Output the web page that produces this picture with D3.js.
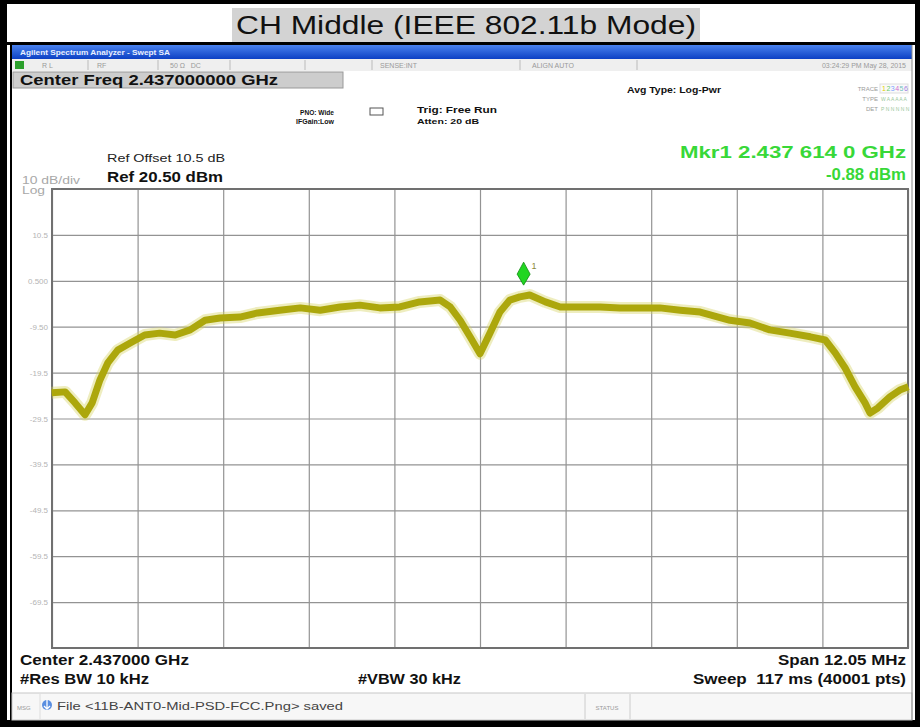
<!DOCTYPE html>
<meta charset="utf-8">
<style>
body { margin: 0; background: #fff; }
svg { display: block; font-family: "Liberation Sans", Arial, sans-serif; }
.grid line { stroke: #939393; stroke-width: 1.2; }
.grid path { display: none; }
.tiny { font-size: 7px; fill: #9a9a9a; }
.bold { font-weight: bold; fill: #111; }
</style>
<body>
<svg width="920" height="727"></svg>
<script src="https://d3js.org/d3.v7.min.js"></script>
<script>

// spectrum settings
var centerGHz = 2.437,
    spanMHz = 12.05,
    refLevel = 20.5,
    dbPerDiv = 10;

// trace (offset from centre in MHz, level in dBm)
var freqMHz = [-6.03, -5.84, -5.70, -5.56, -5.46, -5.35, -5.24, -5.10, -4.93, -4.72,
  -4.51, -4.29, -4.08, -3.87, -3.66, -3.38, -3.13, -2.82, -2.53, -2.25,
  -1.97, -1.69, -1.41, -1.13, -0.85, -0.56, -0.42, -0.28, -0.14, 0.00,
  0.14, 0.28, 0.42, 0.56, 0.70, 0.92, 1.13, 1.41, 1.69, 1.97,
  2.25, 2.53, 2.82, 3.10, 3.24, 3.52, 3.80, 4.08, 4.36, 4.65,
  4.86, 5.00, 5.14, 5.28, 5.42, 5.49, 5.60, 5.77, 5.91, 6.03];
var levelDbm = [-23.9, -23.7, -26.1, -28.7, -26.1, -21.1, -17.4, -14.6, -13.1, -11.3,
  -10.9, -11.3, -10.2, -8.1, -7.6, -7.4, -6.5, -5.9, -5.4, -5.9,
  -5.2, -4.8, -5.4, -5.2, -4.1, -3.7, -5.2, -8.1, -11.7, -15.4,
  -10.9, -6.3, -3.7, -3.0, -2.6, -4.1, -5.2, -5.2, -5.2, -5.4,
  -5.4, -5.4, -5.9, -6.3, -6.9, -8.1, -8.7, -10.2, -10.9, -11.7,
  -12.4, -15.2, -18.5, -22.6, -26.1, -28.3, -27.2, -24.8, -23.3, -22.6];

var marker = {label: "1", freqText: "2.437 614 0 GHz", freqMHz: 0.614, level: "-0.88"};

var yTickLabels = ["10.5", "0.500", "-9.50", "-19.5", "-29.5", "-39.5", "-49.5", "-59.5", "-69.5"];

var svg = d3.select("svg");

var plot = {left: 52, right: 908, top: 189, bottom: 648};

var x = d3.scaleLinear()
    .domain([-spanMHz / 2, spanMHz / 2])
    .range([plot.left, plot.right]);

var y = d3.scaleLinear()
    .domain([refLevel - 10 * dbPerDiv, refLevel])
    .range([plot.bottom, plot.top]);

// text helper; screen capture is stretched sideways so widths are forced
function label(px, py, str, size, opts) {
  opts = opts || {};
  var t = svg.append("text")
      .attr("x", px).attr("y", py)
      .style("font-size", size + "px")
      .attr("fill", opts.fill || "#111")
      .attr("xml:space", "preserve")
      .text(str);
  if (opts.bold) t.style("font-weight", "bold");
  if (opts.anchor) t.attr("text-anchor", opts.anchor);
  if (opts.width) t.attr("textLength", opts.width).attr("lengthAdjust", "spacingAndGlyphs");
  return t;
}

// ---- outer frame + title ----
svg.append("rect").attr("width", 920).attr("height", 727).attr("fill", "#000");
svg.append("rect").attr("x", 7).attr("y", 4).attr("width", 908).attr("height", 716).attr("fill", "#fff");
svg.append("rect").attr("x", 7).attr("y", 42).attr("width", 908).attr("height", 3).attr("fill", "#000");
svg.append("rect").attr("x", 10).attr("y", 45).attr("width", 2).attr("height", 675).attr("fill", "#000");
svg.append("rect").attr("x", 232).attr("y", 8).attr("width", 468).attr("height", 34).attr("fill", "#d3d3d3");
label(466, 34, "CH Middle (IEEE 802.11b Mode)", 25, {anchor: "middle", width: 460, fill: "#111"});

// ---- analyzer window chrome ----
var grad = svg.append("defs").append("linearGradient")
    .attr("id", "bar").attr("x1", 0).attr("x2", 0).attr("y1", 0).attr("y2", 1);
grad.append("stop").attr("offset", 0).attr("stop-color", "#4a82ee");
grad.append("stop").attr("offset", 1).attr("stop-color", "#0c40c4");

svg.append("rect").attr("x", 12).attr("y", 45).attr("width", 900).attr("height", 14).attr("fill", "url(#bar)");
label(20, 55, "Agilent Spectrum Analyzer - Swept SA", 8, {bold: true, fill: "#e8efff", width: 150});

svg.append("rect").attr("x", 12).attr("y", 59).attr("width", 900).attr("height", 12).attr("fill", "#efefef");
svg.append("rect").attr("x", 15).attr("y", 61).attr("width", 9).attr("height", 8).attr("fill", "#2ca02c");
[88, 158, 230, 305, 372, 520, 637].forEach(function(sx) {
  svg.append("line").attr("x1", sx).attr("x2", sx).attr("y1", 60).attr("y2", 70)
      .attr("stroke", "#bbb");
});
[[42, "R L"], [97, "RF"], [170, "50 \u03A9   DC"], [380, "SENSE:INT"], [532, "ALIGN AUTO"]].forEach(function(t) {
  label(t[0], 68, t[1], 7, {fill: "#9a9a9a"});
});
label(906, 68, "03:24:29 PM May 28, 2015", 7, {anchor: "end", fill: "#9a9a9a"});

svg.append("rect").attr("x", 13).attr("y", 72).attr("width", 330).attr("height", 16)
    .attr("fill", "#cdcdcd").attr("stroke", "#999");
label(20, 85, "Center Freq 2.437000000 GHz", 15, {bold: true, width: 258});

label(300, 115, "PNO: Wide", 8, {bold: true, width: 34});
label(296, 124, "IFGain:Low", 8, {bold: true, width: 38});
svg.append("rect").attr("x", 370).attr("y", 108).attr("width", 13).attr("height", 7)
    .attr("fill", "#fff").attr("stroke", "#555");
label(417, 113, "Trig: Free Run", 9.5, {bold: true, width: 80});
label(417, 124, "Atten: 20 dB", 8, {bold: true, width: 62});
label(627, 93, "Avg Type: Log-Pwr", 9.5, {bold: true, width: 94});

label(878, 91, "TRACE", 6, {anchor: "end", fill: "#9a9a9a"});
label(878, 101, "TYPE", 6, {anchor: "end", fill: "#9a9a9a"});
label(878, 111, "DET", 6, {anchor: "end", fill: "#9a9a9a"});
svg.append("rect").attr("x", 880).attr("y", 84).attr("width", 28).attr("height", 9).attr("fill", "#fafafa").attr("stroke", "#ddd");
["#e0d000", "#66cc66", "#7aa0ff", "#d070d0", "#70c0c0", "#a080e0"].forEach(function(c, i) {
  label(882 + i * 4.4, 91, String(i + 1), 7, {fill: c});
});
label(881, 101, "W A A A A A", 5, {fill: "#9bc79b"});
label(881, 111, "P N N N N N", 5, {fill: "#9bc79b"});

// marker readout
label(906, 158, "Mkr" + marker.label + " " + marker.freqText, 16, {bold: true, anchor: "end", fill: "#38d838", width: 226});
label(906, 180, marker.level + " dBm", 16, {bold: true, anchor: "end", fill: "#38d838", width: 80});

label(107, 162, "Ref Offset 10.5 dB", 11, {fill: "#222", width: 118});
label(107, 182, "Ref " + d3.format(".2f")(refLevel) + " dBm", 14, {bold: true, width: 116});
label(22, 184, dbPerDiv + " dB/div", 10, {fill: "#a8a8a8", width: 58});
label(22, 194, "Log", 10, {fill: "#a8a8a8", width: 23});

// ---- graticule ----
var xTicks = d3.range(11).map(function(i) { return -spanMHz / 2 + i * spanMHz / 10; });
var yTicks = d3.range(11).map(function(i) { return refLevel - i * dbPerDiv; });

svg.append("g")
    .attr("class", "grid")
    .attr("transform", "translate(0," + plot.bottom + ")")
    .call(d3.axisBottom(x).tickValues(xTicks).tickSize(-(plot.bottom - plot.top)).tickFormat(""));

svg.append("g")
    .attr("class", "grid")
    .attr("transform", "translate(" + plot.left + ",0)")
    .call(d3.axisLeft(y).tickValues(yTicks).tickSize(-(plot.right - plot.left)).tickFormat(""));

svg.append("rect")
    .attr("x", plot.left).attr("y", plot.top)
    .attr("width", plot.right - plot.left).attr("height", plot.bottom - plot.top)
    .attr("fill", "none").attr("stroke", "#707070").attr("stroke-width", 2);

svg.append("g").selectAll("text")
  .data(yTickLabels)
  .enter().append("text")
    .attr("x", 48)
    .attr("y", function(d, i) { return y(yTicks[i + 1]) + 3; })
    .attr("text-anchor", "end")
    .style("font-size", "8px")
    .attr("fill", "#b4b4b4")
    .text(function(d) { return d; });

// ---- trace ----
var pts = freqMHz.map(function(f, i) { return [f, levelDbm[i]]; });
var line = d3.line()
    .x(function(d) { return x(d[0]); })
    .y(function(d) { return y(d[1]); });

svg.append("path").datum(pts)
    .attr("d", line).attr("fill", "none")
    .attr("stroke", "#d4d160").attr("stroke-width", 12).attr("stroke-opacity", 0.4)
    .attr("stroke-linejoin", "round");
svg.append("path").datum(pts)
    .attr("d", line).attr("fill", "none")
    .attr("stroke", "#aca70c").attr("stroke-width", 7)
    .attr("stroke-linejoin", "round");

// marker diamond
var mx = x(marker.freqMHz), my = y(+marker.level) - 2;
svg.append("path")
    .attr("d", "M" + mx + "," + my + "L" + (mx + 6.5) + "," + (my - 11) + "L" + mx + "," + (my - 23) + "L" + (mx - 6.5) + "," + (my - 11) + "Z")
    .attr("fill", "#22d622").attr("stroke", "#108a10").attr("stroke-width", 0.8);
label(mx + 8, my - 16, marker.label, 9, {fill: "#8a8a40"});

// ---- bottom annotations ----
label(20, 665, "Center " + d3.format(".6f")(centerGHz) + " GHz", 14, {bold: true, width: 169});
label(20, 684, "#Res BW 10 kHz", 14, {bold: true, width: 129});
label(358, 684, "#VBW 30 kHz", 14, {bold: true, width: 103});
label(906, 665, "Span " + spanMHz + " MHz", 14, {bold: true, anchor: "end", width: 128});
label(906, 684, "Sweep  117 ms (40001 pts)", 14, {bold: true, anchor: "end", width: 213});

// message bar
svg.append("rect").attr("x", 12).attr("y", 693).attr("width", 900).attr("height", 27)
    .attr("fill", "#f7f7f7").attr("stroke", "#c8c8c8");
svg.append("line").attr("x1", 40).attr("x2", 40).attr("y1", 694).attr("y2", 719).attr("stroke", "#ddd");
svg.append("line").attr("x1", 585).attr("x2", 585).attr("y1", 694).attr("y2", 719).attr("stroke", "#ccc");
svg.append("line").attr("x1", 630).attr("x2", 630).attr("y1", 694).attr("y2", 719).attr("stroke", "#ccc");
label(17, 710, "MSG", 6, {fill: "#9a9a9a"});
svg.append("circle").attr("cx", 47).attr("cy", 705).attr("r", 5).attr("fill", "#5a8ee0");
svg.append("path").attr("d", "M47,700L47,708M44,706L47,709L50,706").attr("stroke", "#fff").attr("stroke-width", 1.3).attr("fill", "none");
label(57, 710, "File <11B-ANT0-Mid-PSD-FCC.Png> saved", 11, {fill: "#444", width: 286});
label(607, 710, "STATUS", 6, {anchor: "middle", fill: "#9a9a9a"});

svg.append("line").attr("x1", 912).attr("x2", 912).attr("y1", 45).attr("y2", 720).attr("stroke", "#888");

</script>
</body>
